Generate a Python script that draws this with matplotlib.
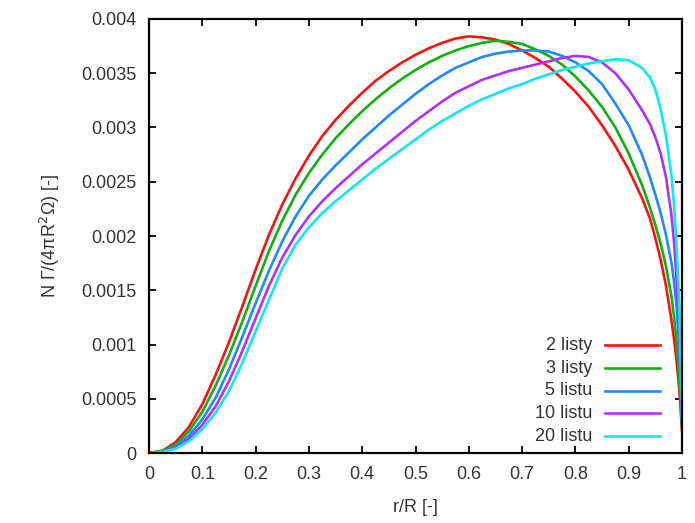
import matplotlib
matplotlib.use("Agg")
import matplotlib.pyplot as plt

plt.rcParams['font.family'] = ['Liberation Sans', 'DejaVu Sans']

# radial stations r/R shared by all curves
r = [0.0, 0.025, 0.05, 0.075, 0.1, 0.125, 0.15, 0.175, 0.2, 0.225, 0.25, 0.275,
     0.3, 0.325, 0.35, 0.375, 0.4, 0.425, 0.45, 0.475, 0.5, 0.525, 0.55, 0.575,
     0.6, 0.625, 0.65, 0.675, 0.7, 0.725, 0.75, 0.775, 0.8, 0.825, 0.85, 0.875,
     0.9, 0.925, 0.94, 0.95, 0.96, 0.97, 0.98, 0.985, 0.99, 0.995, 1.0]

g_2 = [0.0, 0.00002, 0.00010, 0.00024, 0.00045, 0.00072, 0.00102, 0.00135, 0.00169,
       0.00201, 0.00229, 0.00253, 0.00274, 0.00292, 0.00307, 0.00320, 0.00332, 0.00343,
       0.00352, 0.00360, 0.00367, 0.00373, 0.00378, 0.00382, 0.00384, 0.00383, 0.00381,
       0.00377, 0.00371, 0.00364, 0.00356, 0.00345, 0.00333, 0.00319, 0.00302, 0.00283,
       0.00261, 0.00235, 0.00216, 0.00198, 0.00178, 0.00154, 0.00123, 0.00105, 0.00084,
       0.00058, 0.00020]

g_3 = [0.0, 0.00002, 0.00008, 0.00020, 0.00038, 0.00062, 0.00090, 0.00121, 0.00154,
       0.00186, 0.00214, 0.00238, 0.00258, 0.00275, 0.00290, 0.00303, 0.00315, 0.00326,
       0.00336, 0.00345, 0.00353, 0.00360, 0.00366, 0.00371, 0.00375, 0.00378, 0.00380,
       0.00379, 0.00377, 0.00372, 0.00366, 0.00358, 0.00347, 0.00334, 0.00319, 0.00300,
       0.00276, 0.00247, 0.00226, 0.00210, 0.00193, 0.00172, 0.00145, 0.00126, 0.00102,
       0.00068, 0.00025]

g_5 = [0.0, 0.00001, 0.00006, 0.00016, 0.00031, 0.00051, 0.00077, 0.00107, 0.00138,
       0.00168, 0.00195, 0.00218, 0.00237, 0.00252, 0.00265, 0.00277, 0.00289, 0.00300,
       0.00311, 0.00321, 0.00331, 0.00340, 0.00348, 0.00355, 0.00360, 0.00365, 0.00368,
       0.00370, 0.00371, 0.00371, 0.00370, 0.00366, 0.00360, 0.00352, 0.00340, 0.00322,
       0.00302, 0.00275, 0.00254, 0.00238, 0.00221, 0.00201, 0.00176, 0.00158, 0.00134,
       0.00095, 0.00030]

g_10 = [0.0, 0.00001, 0.00005, 0.00013, 0.00026, 0.00043, 0.00066, 0.00094, 0.00124,
        0.00154, 0.00180, 0.00201, 0.00218, 0.00232, 0.00244, 0.00255, 0.00266, 0.00276,
        0.00286, 0.00296, 0.00306, 0.00315, 0.00324, 0.00332, 0.00338, 0.00344, 0.00348,
        0.00352, 0.00355, 0.00358, 0.00361, 0.00364, 0.00366, 0.00365, 0.00360, 0.00350,
        0.00335, 0.00316, 0.00303, 0.00291, 0.00276, 0.00254, 0.00220, 0.00195, 0.00158,
        0.00110, 0.00030]

g_20 = [0.0, 0.00001, 0.00004, 0.00011, 0.00022, 0.00037, 0.00057, 0.00083, 0.00112,
        0.00141, 0.00170, 0.00192, 0.00208, 0.00221, 0.00232, 0.00242, 0.00252, 0.00262,
        0.00271, 0.00280, 0.00289, 0.00298, 0.00306, 0.00313, 0.00320, 0.00326, 0.00331,
        0.00336, 0.00340, 0.00345, 0.00349, 0.00353, 0.00356, 0.00359, 0.00361, 0.00363,
        0.00362, 0.00355, 0.00346, 0.00335, 0.00317, 0.00292, 0.00257, 0.00229, 0.00190,
        0.00135, 0.00030]

labels = ['2 listy', '3 listy', '5 listu', '10 listu', '20 listu']
colors = ['#ff1010', '#10b010', '#2288ff', '#b030ff', '#10e8ee']
series = [g_2, g_3, g_5, g_10, g_20]

x_ticks = [0, 0.1, 0.2, 0.3, 0.4, 0.5, 0.6, 0.7, 0.8, 0.9, 1]
x_tick_labels = ['0', '0.1', '0.2', '0.3', '0.4', '0.5', '0.6', '0.7', '0.8', '0.9', '1']
y_ticks = [0, 0.0005, 0.001, 0.0015, 0.002, 0.0025, 0.003, 0.0035, 0.004]
y_tick_labels = ['0', '0.0005', '0.001', '0.0015', '0.002', '0.0025', '0.003', '0.0035', '0.004']

fig = plt.figure(figsize=(6.95, 5.23), dpi=100)
ax = fig.add_axes([0.2144, 0.1338, 0.7669, 0.8299])

for ys, c in zip(series, colors):
    ax.plot(r, ys, color=c, lw=1.9, solid_joinstyle='round', solid_capstyle='round')

ax.set_xlim(0, 1)
ax.set_ylim(0, 0.004)
ax.set_xticks(x_ticks)
ax.set_xticklabels(x_tick_labels)
ax.set_yticks(y_ticks)
ax.set_yticklabels(y_tick_labels)
ax.tick_params(direction='in', length=5, width=1.3, top=True, right=True,
               labelsize=13, labelcolor='#333333', pad=9)
for sp in ax.spines.values():
    sp.set_linewidth(1.6)

ax.set_xlabel('r/R [-]', fontsize=13, color='#333333', labelpad=12)
ax.set_ylabel('N \u0393/(4\u03c0R$^2$\u03a9) [-]', fontsize=13, color='#333333', labelpad=14)

# key in the lower right: right-aligned text followed by a line sample
key_top = 0.248
key_step = 0.0523
for i, (lab, c) in enumerate(zip(labels, colors)):
    yk = key_top - i * key_step
    ax.text(0.831, yk, lab, transform=ax.transAxes, ha='right', va='center',
            fontsize=13, color='#333333')
    ax.plot([0.855, 0.958], [yk, yk], transform=ax.transAxes, color=c, lw=1.9)

fig.savefig('out.png', dpi=100)
